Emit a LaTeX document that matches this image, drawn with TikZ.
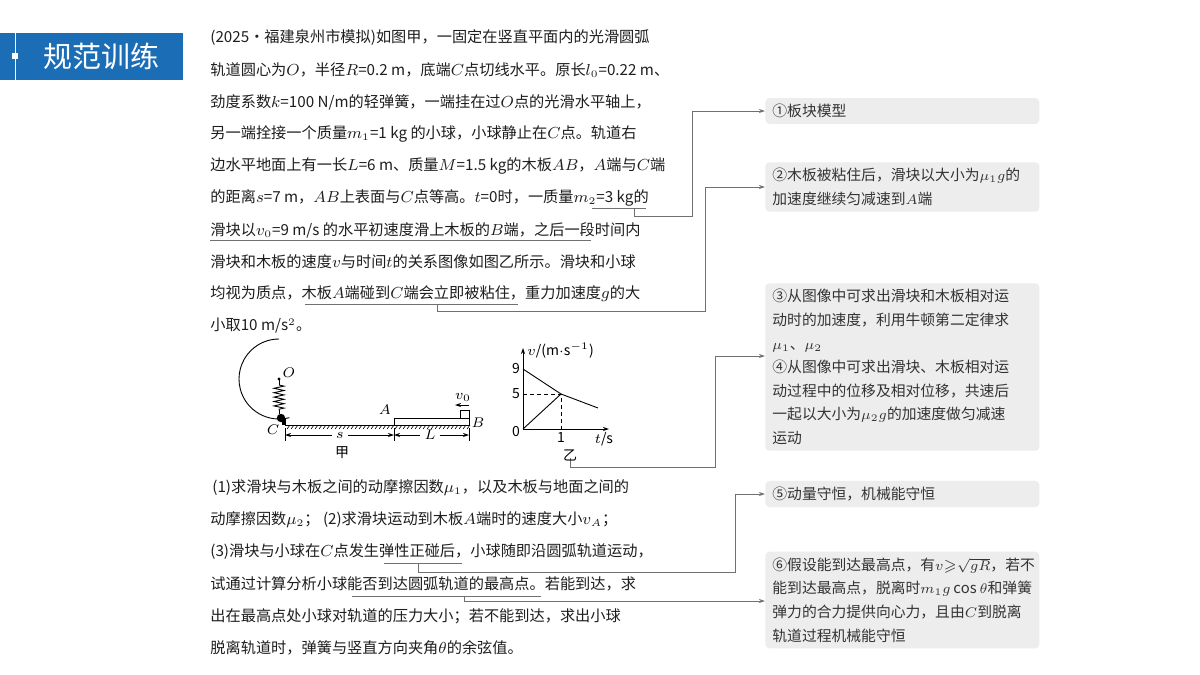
\documentclass[tikz,border=0pt]{standalone}
\usepackage{amssymb}
\usepackage{fontspec}
\setmainfont{Noto Sans CJK SC}
\usetikzlibrary{arrows.meta,decorations.pathmorphing}
\definecolor{titleblue}{HTML}{1B6DB5}
\definecolor{boxgray}{HTML}{EDEDED}
\definecolor{linkgray}{HTML}{707070}
\definecolor{bodyink}{HTML}{1E1E1E}
\tikzset{
  body/.style={anchor=west, inner sep=0pt, text=bodyink, font=\fontsize{7.6}{9}\selectfont},
  note/.style={anchor=west, fill=boxgray, rounded corners=2pt, text=black!80,
    text width=130pt, inner xsep=3.5pt, inner ysep=3pt, align=left,
    font=\fontsize{7.4}{11.8}\selectfont},
  link/.style={linkgray, line width=0.5pt, -{Stealth[length=3pt,width=2pt]}},
  uline/.style={linkgray, line width=0.5pt},
  fig/.style={line width=0.45pt},
  lbl/.style={inner sep=0pt, font=\fontsize{7}{8}\selectfont}
}
\begin{document}
\begin{tikzpicture}[x=0.5pt, y=-0.5pt]
        \useasboundingbox (0,0) rectangle (1200,675);
        \fill[white] (0,0) rectangle (1200,675);

        % Title bar
        \fill[titleblue] (0,33) rectangle (183,80);
        \draw[white, line width=0.3pt] (15,33) -- (15,80);
        \fill[white] (12,53) rectangle (18,59);
        \node[anchor=west, text=white, font=\fontsize{14.5}{16}\selectfont] (title) at (36,56) {规范训练};

        % Problem text
        \node[body] (t1) at (210,38) {(2025·福建泉州市模拟)如图甲，一固定在竖直平面内的光滑圆弧};
        \node[body] (t2) at (210,70) {轨道圆心为$O$，半径$R$=0.2 m，底端$C$点切线水平。原长$l_0$=0.22 m、};
        \node[body] (t3) at (210,102) {劲度系数$k$=100 N/m的轻弹簧，一端挂在过$O$点的光滑水平轴上，};
        \node[body] (t4) at (210,134) {另一端拴接一个质量$m_1$=1 kg 的小球，小球静止在$C$点。轨道右};
        \node[body] (t5) at (210,166) {边水平地面上有一长$L$=6 m、质量$M$=1.5 kg的木板$AB$，$A$端与$C$端};
        \node[body] (t6) at (210,198) {的距离$s$=7 m，$AB$上表面与$C$点等高。$t$=0时，一质量$m_2$=3 kg的};
        \node[body] (t7) at (210,230) {滑块以$v_0$=9 m/s 的水平初速度滑上木板的$B$端，之后一段时间内};
        \node[body] (t8) at (210,262) {滑块和木板的速度$v$与时间$t$的关系图像如图乙所示。滑块和小球};
        \node[body] (t9) at (210,294) {均视为质点，木板$A$端碰到$C$端会立即被粘住，重力加速度$g$的大};
        \node[body] (t10) at (210,326) {小取10 m/s$^2$。};

        \node[body] (q1) at (212,488) {(1)求滑块与木板之间的动摩擦因数$\mu_1$，以及木板与地面之间的};
        \node[body] (q2) at (210,520) {动摩擦因数$\mu_2$； (2)求滑块运动到木板$A$端时的速度大小$v_A$；};
        \node[body] (q3) at (210,552) {(3)滑块与小球在$C$点发生弹性正碰后，小球随即沿圆弧轨道运动，};
        \node[body] (q4) at (210,584) {试通过计算分析小球能否到达圆弧轨道的最高点。若能到达，求};
        \node[body] (q5) at (210,616) {出在最高点处小球对轨道的压力大小；若不能到达，求出小球};
        \node[body] (q6) at (210,648) {脱离轨道时，弹簧与竖直方向夹角$\theta$的余弦值。};

        % Underlines
        \draw[uline] (592,208) -- (646,208);
        \draw[uline] (210,240) -- (591,240);
        \draw[uline] (305,304) -- (518,304);
        \draw[uline] (384,563) -- (462,563);
        \draw[uline] (352,596) -- (541,596);

        % Notes
        \node[note, minimum height=12.5pt] (n1) at (765,111) {①板块模型};
        \node[note] (n2) at (765,187) {②木板被粘住后，滑块以大小为$\mu_1g$的\\加速度继续匀减速到$A$端};
        \node[note] (n3) at (765,367) {③从图像中可求出滑块和木板相对运\\动时的加速度，利用牛顿第二定律求\\$\mu_1$、$\mu_2$\\④从图像中可求出滑块、木板相对运\\动过程中的位移及相对位移，共速后\\一起以大小为$\mu_2g$的加速度做匀减速\\运动};
        \node[note] (n5) at (765,494) {⑤动量守恒，机械能守恒};
        \node[note] (n6) at (765,600) {\makebox[\linewidth][l]{⑥假设能到达最高点，有$v{\geqslant}\sqrt{gR}$，若不}\\能到达最高点，脱离时$m_1g\cos\theta$和弹簧\\弹力的合力提供向心力，且由$C$到脱离\\轨道过程机械能守恒};

        % Links
        \coordinate (s1) at (634,208);
        \coordinate (s2) at (437,304);
        \coordinate (s3) at (570,458);
        \coordinate (s5) at (418,563);
        \coordinate (s6) at (464,596);
        \draw[link] (s1) |- (692,216) |- (n1.west);
        \draw[link] (s2) |- (705,311) |- (n2.west |- 0,187);
        \draw[link] (s3) |- (715,467) |- (n3.west |- 0,356);
        \draw[link] (s5) |- (735,572) |- (n5.west);
        \draw[link] (s6) |- (n6.west |- 0,601);

        % Figure jia: track, spring, ball
        \draw[fig] (279,379) ++(75:40) arc (75:270:40);
        \fill (279,379) circle (1.6);
        \node[lbl] (lO) at (289,373) {$O$};
        \draw[fig, decorate, decoration={zigzag, segment length=2.2pt, amplitude=2.5pt}] (279,385) -- (279,410);
        \draw[fig] (279,379) -- (279,385) (279,410) -- (279,414);
        \fill (281,418) circle (4.2);
        \fill (282,419) rectangle (286,425);
        \node[lbl] (lC) at (273,430) {$C$};
        % ground and board
        \draw[fig] (285,425) -- (469,425);
        \foreach \hx in {287,291,...,467} \draw[line width=0.3pt] (\hx+3,425) -- (\hx,429);
        \draw[fig] (394,425) rectangle (469,418);
        \draw[fig] (460,418) rectangle (469,410);
        \draw[fig, -{Stealth[length=3pt,width=2pt]}] (469,405) -- (455,405);
        \node[lbl] (lv0) at (463,397) {$v_0$};
        \node[lbl] (lA) at (385,410) {$A$};
        \node[lbl] (lB) at (478,423) {$B$};
        % dimensions
        \draw[fig] (285,428) -- (285,441) (394,428) -- (394,441) (469,428) -- (469,441);
        \node[lbl, fill=white, inner xsep=2pt] (ls) at (340,435) {$s$};
        \node[lbl, fill=white, inner xsep=2pt] (lL) at (430,435) {$L$};
        \draw[fig, -{Stealth[length=3pt,width=2pt]}] (ls) -- (285,435);
        \draw[fig, -{Stealth[length=3pt,width=2pt]}] (ls) -- (394,435);
        \draw[fig, -{Stealth[length=3pt,width=2pt]}] (lL) -- (394,435);
        \draw[fig, -{Stealth[length=3pt,width=2pt]}] (lL) -- (469,435);
        \node[lbl] (ljia) at (342,453) {甲};

        % Figure yi: v-t graph
        \draw[fig, -{Stealth[length=3pt,width=2pt]}] (523,429) -- (609,429);
        \draw[fig, -{Stealth[length=3pt,width=2pt]}] (523,429) -- (523,348);
        \draw[fig] (523,369) -- (561,394) -- (598,408);
        \draw[fig] (523,429) -- (561,394);
        \draw[fig, dash pattern=on 2pt off 1.5pt] (523,394) -- (561,394) -- (561,429);
        \node[lbl] (l9) at (516,369) {9};
        \node[lbl] (l5) at (516,394) {5};
        \node[lbl] (l0) at (516,432) {0};
        \node[lbl] (l1) at (561,438) {1};
        \node[lbl] (lt) at (604,439) {$t$/s};
        \node[lbl, anchor=west] (lv) at (527,351) {$v$/(m$\cdot$s$^{-1}$)};
        \node[lbl] (lyi) at (570,455) {乙};
\end{tikzpicture}
\end{document}
